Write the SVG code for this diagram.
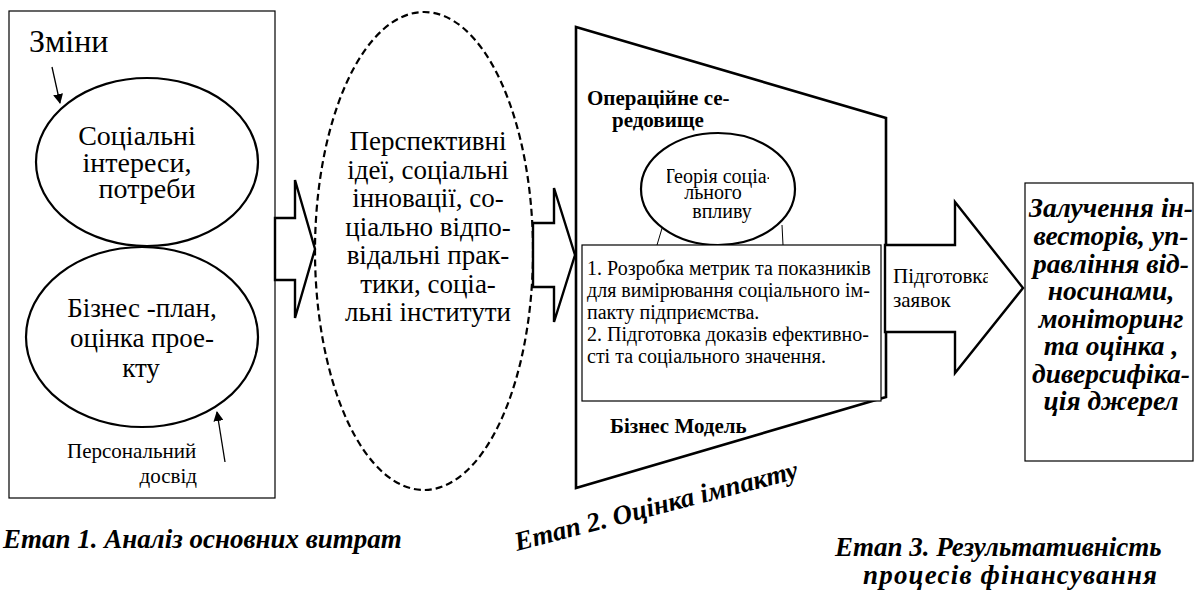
<svg xmlns="http://www.w3.org/2000/svg" width="1195" height="590" viewBox="0 0 1195 590" font-family="'Liberation Serif', 'Times New Roman', serif">
<style>
text{font-family:"Liberation Serif","Times New Roman",serif;fill:#000}
.thin{fill:#fff;stroke:#000;stroke-width:1.2}
.ell{fill:#fff;stroke:#000;stroke-width:2.2}
.blk{fill:#fff;stroke:#000;stroke-width:2.4;stroke-linejoin:miter}
.t27{font-size:27px}
.t20{font-size:20px}
.t21{font-size:21px}
.bi{font-weight:bold;font-style:italic}
.b{font-weight:bold}
</style>
<defs>
<marker id="ah" markerWidth="10" markerHeight="10" refX="9" refY="5" orient="auto" markerUnits="userSpaceOnUse">
<path d="M0,0 L10,5 L0,10 z" fill="#000"/>
</marker>
<clipPath id="cT"><rect x="667" y="160" width="102" height="28"/></clipPath>
<clipPath id="cP"><rect x="886" y="260" width="102" height="30"/></clipPath>
</defs>

<g id="stage1">
<rect class="thin" x="9" y="11" width="266" height="487"/>
<text x="29" y="52" font-size="32">Зміни</text>
</g>

<g id="connectors">
<line x1="52" y1="67" x2="60" y2="103" stroke="#000" stroke-width="1.3" marker-end="url(#ah)"/>
<line x1="225" y1="462" x2="217" y2="412" stroke="#000" stroke-width="1.3" marker-end="url(#ah)"/>
</g>

<g id="n-social">
<ellipse class="ell" cx="147" cy="162" rx="111" ry="84"/>
<text font-size="28" text-anchor="middle"><tspan x="137" y="145">Соціальні</tspan><tspan x="137" y="172">інтереси,</tspan><tspan x="147" y="198">потреби</tspan></text>
</g>

<g id="n-business">
<ellipse class="ell" cx="142" cy="337" rx="116" ry="90"/>
<text class="t27" text-anchor="middle"><tspan x="142" y="317">Бізнес -план,</tspan><tspan x="142" y="347">оцінка прое-</tspan><tspan x="141" y="377">кту</tspan></text>
</g>

<g id="n-personal">
<text class="t21"><tspan x="67" y="458">Персональний</tspan><tspan x="197" y="483" text-anchor="end">досвід</tspan></text>
</g>

<g id="n-ideas">
<ellipse cx="424" cy="251" rx="109" ry="239" fill="#fff" stroke="#000" stroke-width="2.2" stroke-dasharray="7,4"/>
<text class="t27" text-anchor="middle"><tspan x="428" y="150">Перспективні</tspan><tspan x="428" y="179">ідеї, соціальні</tspan><tspan x="428" y="207">інновації, со-</tspan><tspan x="428" y="236">ціально відпо-</tspan><tspan x="428" y="264">відальні прак-</tspan><tspan x="428" y="293">тики, соціа-</tspan><tspan x="428" y="321">льні інститути</tspan></text>
</g>

<g id="arrow1">
<path class="blk" d="M275,218 L295,218 L295,180 L315,249 L295,318 L295,280 L275,280 Z"/>
</g>

<g id="arrow2">
<path class="blk" d="M533,223 L554,223 L554,188 L575,255 L554,322 L554,287 L533,287 Z"/>
</g>

<g id="stage2">
<path d="M576,27 L886,118 L886,397 L576,488 Z" fill="#fff" stroke="#000" stroke-width="2.6" stroke-linejoin="miter"/>
<text class="b t21"><tspan x="587" y="105">Операційне се-</tspan><tspan x="612" y="127">редовище</tspan></text>
<text class="b t21" x="610" y="433">Бізнес Модель</text>
</g>

<g id="n-theory">
<line x1="663" y1="225" x2="657" y2="245" stroke="#000" stroke-width="1"/>
<line x1="782" y1="225" x2="783" y2="245" stroke="#000" stroke-width="1"/>
<ellipse class="ell" cx="718" cy="189" rx="77" ry="56"/>
<text class="t20" text-anchor="middle" clip-path="url(#cT)"><tspan x="718" y="183">Теорія соціа-</tspan></text>
<text class="t20" text-anchor="middle"><tspan x="713" y="199">льного</tspan><tspan x="722" y="218">впливу</tspan></text>
</g>

<g id="n-metrics">
<rect class="thin" x="582" y="245" width="299" height="156"/>
<text class="t20"><tspan x="587" y="275">1. Розробка метрик та показників</tspan><tspan x="587" y="297">для вимірювання соціального ім-</tspan><tspan x="587" y="319">пакту підприємства.</tspan><tspan x="587" y="341">2. Підготовка доказів ефективно-</tspan><tspan x="587" y="363">сті та соціального значення.</tspan></text>
</g>

<g id="arrow3">
<path class="blk" d="M885,245 L955,245 L955,202 L1023,288 L955,373 L955,332 L885,332 Z"/>
<text class="t21" clip-path="url(#cP)" x="893" y="283">Підготовка</text>
<text class="t21" x="893" y="307">заявок</text>
</g>

<g id="n-result">
<rect class="thin" x="1025" y="183" width="168" height="278"/>
<text class="bi" font-size="27.5" text-anchor="middle"><tspan x="1111" y="217">Залучення ін-</tspan><tspan x="1111" y="245">весторів, уп-</tspan><tspan x="1111" y="273">равління від-</tspan><tspan x="1111" y="300">носинами,</tspan><tspan x="1111" y="328">моніторинг</tspan><tspan x="1111" y="355">та оцінка ,</tspan><tspan x="1111" y="383">диверсифіка-</tspan><tspan x="1111" y="410">ція джерел</tspan></text>
</g>

<g id="labels">
<text class="bi t27" x="3" y="548">Етап 1. Аналіз основних витрат</text>
<text class="bi t27" transform="translate(517,551) rotate(-14.5)">Етап 2. Оцінка імпакту</text>
<text class="bi t27"><tspan x="835" y="556">Етап 3. Результативність</tspan><tspan x="863" y="584" textLength="294" lengthAdjust="spacing">процесів фінансування</tspan></text>
</g>
</svg>
